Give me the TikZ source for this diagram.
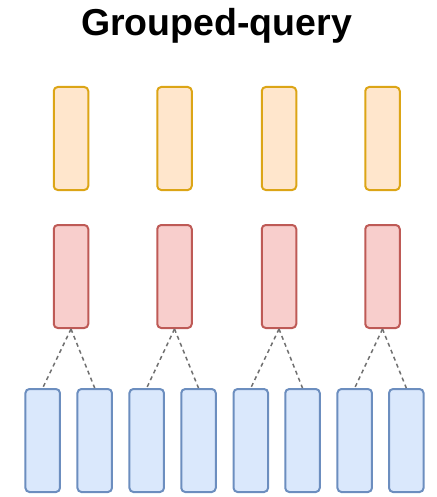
\documentclass[tikz,border=0pt]{standalone}
\usepackage{fontspec}
\setmainfont{Liberation Sans}
\begin{document}
\begin{tikzpicture}[x=1pt,y=1pt,
  bar/.style={rectangle, rounded corners=4pt, line width=2pt, minimum width=34.5pt, minimum height=103pt, inner sep=0pt},
  valbar/.style={bar, draw=valstroke, fill=valfill},
  keybar/.style={bar, draw=keystroke, fill=keyfill},
  qbar/.style={bar, draw=qstroke, fill=qfill},
  link/.style={draw=linkgray, line width=1.5pt, dash pattern=on 4pt off 3.5pt}]
\definecolor{valfill}{HTML}{FFE6CC}
\definecolor{valstroke}{HTML}{DCA516}
\definecolor{keyfill}{HTML}{F8CECC}
\definecolor{keystroke}{HTML}{BE5A56}
\definecolor{qfill}{HTML}{DAE8FC}
\definecolor{qstroke}{HTML}{6C8EBF}
\definecolor{linkgray}{HTML}{707070}
\useasboundingbox (0,0) rectangle (436,-497);
\node[anchor=base, font=\fontsize{37.5}{42}\selectfont\bfseries] (title) at (216.5,-36) {Grouped-query};
% value heads
\node[valbar] (v1) at (71,-138.5) {};
\node[valbar] (v2) at (174.5,-138.5) {};
\node[valbar] (v3) at (279,-138.5) {};
\node[valbar] (v4) at (382.5,-138.5) {};
% key heads
\node[keybar] (k1) at (71,-276.5) {};
\node[keybar] (k2) at (174.5,-276.5) {};
\node[keybar] (k3) at (279,-276.5) {};
\node[keybar] (k4) at (382.5,-276.5) {};
% query heads
\node[qbar] (q1) at (42.7,-440.5) {};
\node[qbar] (q2) at (94.7,-440.5) {};
\node[qbar] (q3) at (146.7,-440.5) {};
\node[qbar] (q4) at (198.5,-440.5) {};
\node[qbar] (q5) at (250.8,-440.5) {};
\node[qbar] (q6) at (302.5,-440.5) {};
\node[qbar] (q7) at (354.7,-440.5) {};
\node[qbar] (q8) at (406.3,-440.5) {};
% each key head is shared by two query heads
\draw[link] (k1.south) -- (q1.north);
\draw[link] (k1.south) -- (q2.north);
\draw[link] (k2.south) -- (q3.north);
\draw[link] (k2.south) -- (q4.north);
\draw[link] (k3.south) -- (q5.north);
\draw[link] (k3.south) -- (q6.north);
\draw[link] (k4.south) -- (q7.north);
\draw[link] (k4.south) -- (q8.north);
\end{tikzpicture}
\end{document}
